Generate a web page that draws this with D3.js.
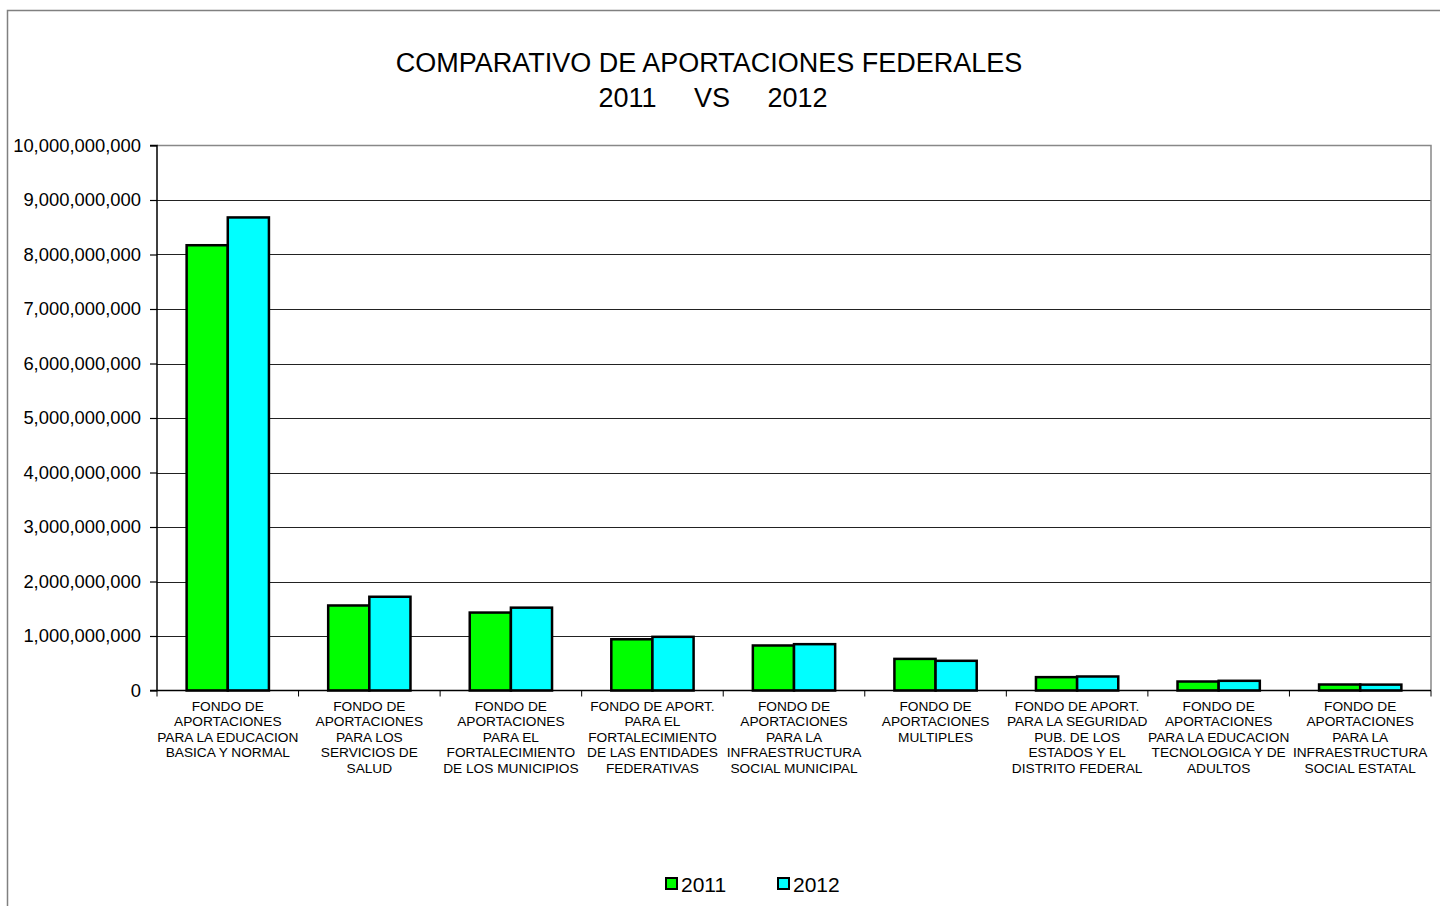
<!DOCTYPE html>
<html><head><meta charset="utf-8">
<script src="https://cdn.jsdelivr.net/npm/d3@7"></script>
<style>body{margin:0;background:#fff}svg{display:block;font-family:Arial,"Liberation Sans",sans-serif}</style>
</head><body><svg id="c" width="1440" height="906"></svg>
<script>
const categories = [
  ["FONDO DE","APORTACIONES","PARA LA EDUCACION","BASICA Y NORMAL"],
  ["FONDO DE","APORTACIONES","PARA LOS","SERVICIOS DE","SALUD"],
  ["FONDO DE","APORTACIONES","PARA EL","FORTALECIMIENTO","DE LOS MUNICIPIOS"],
  ["FONDO DE APORT.","PARA EL","FORTALECIMIENTO","DE LAS ENTIDADES","FEDERATIVAS"],
  ["FONDO DE","APORTACIONES","PARA LA","INFRAESTRUCTURA","SOCIAL MUNICIPAL"],
  ["FONDO DE","APORTACIONES","MULTIPLES"],
  ["FONDO DE APORT.","PARA LA SEGURIDAD","PUB. DE LOS","ESTADOS Y EL","DISTRITO FEDERAL"],
  ["FONDO DE","APORTACIONES","PARA LA EDUCACION","TECNOLOGICA Y DE","ADULTOS"],
  ["FONDO DE","APORTACIONES","PARA LA","INFRAESTRUCTURA","SOCIAL ESTATAL"]
];
const series = ["2011","2012"];
const values2011 = [8170000000,1560000000,1430000000,940000000,826000000,580000000,245000000,165000000,110000000];
const values2012 = [8680000000,1720000000,1520000000,985000000,850000000,545000000,257000000,178000000,108000000];
const yTicks = [0,1e9,2e9,3e9,4e9,5e9,6e9,7e9,8e9,9e9,1e10];
const colors = ["#00FF00","#00FFFF"];

const svg = d3.select("#c");
svg.append("path").attr("d","M7.5,906 V10.5 H1440").attr("fill","none").attr("stroke","#808080").attr("stroke-width",1.5);

const L=157, R=1431, T=145.5, B=690.5;
const x = d3.scaleBand().domain(d3.range(categories.length)).range([L,R]).paddingInner(0).paddingOuter(0);
const xs = d3.scaleBand().domain(series).range([0,x.bandwidth()]).paddingInner(0).paddingOuter(0.72);
const y = d3.scaleLinear().domain([0,1e10]).range([B,T]);

svg.append("text").attr("x",709).attr("y",72).attr("text-anchor","middle").attr("font-size",27).text("COMPARATIVO DE APORTACIONES FEDERALES");
svg.append("text").attr("x",713).attr("y",107).attr("text-anchor","middle").attr("font-size",27).attr("xml:space","preserve").text("2011     VS     2012");

svg.append("g").selectAll("line").data(yTicks.slice(1,-1)).join("line")
  .attr("x1",L).attr("x2",R).attr("y1",d=>Math.round(y(d))+0.5).attr("y2",d=>Math.round(y(d))+0.5)
  .attr("stroke","#222").attr("stroke-width",1.2);
svg.append("path").attr("d",`M${L},${T} H${R} V${B}`).attr("fill","none").attr("stroke","#888").attr("stroke-width",1.5);

const data = [values2011, values2012];
categories.forEach((c,i)=>{
  series.forEach((s,j)=>{
    const v = data[j][i];
    svg.append("rect").attr("x",x(i)+xs(s)).attr("width",xs.bandwidth())
      .attr("y",y(v)).attr("height",y(0)-y(v))
      .attr("fill",colors[j]).attr("stroke","#000").attr("stroke-width",2.5);
  });
});

const yAxis = d3.axisLeft(y).tickValues(yTicks).tickSize(7).tickPadding(9).tickFormat(d3.format(","));
const gy = svg.append("g").attr("transform",`translate(${L},0)`).call(yAxis);
gy.select(".domain").attr("stroke","#000").attr("stroke-width",1.5).attr("d",`M-7,${T}H0V${B}H-7`);
gy.selectAll(".tick line").attr("stroke","#000").attr("stroke-width",1.2);
gy.selectAll("text").attr("font-size",18.4).attr("fill","#000").attr("font-family","Arial, Liberation Sans, sans-serif");

svg.append("line").attr("x1",L).attr("x2",R).attr("y1",B).attr("y2",B).attr("stroke","#000").attr("stroke-width",1.5);
svg.append("g").selectAll("line").data(d3.range(categories.length+1)).join("line")
  .attr("x1",d=>L+d*x.bandwidth()).attr("x2",d=>L+d*x.bandwidth()).attr("y1",B).attr("y2",B+6)
  .attr("stroke","#000").attr("stroke-width",1);
const xl = svg.append("g");
categories.forEach((lines,i)=>{
  const t = xl.append("text").attr("text-anchor","middle").attr("font-size",13.7).attr("fill","#000");
  lines.forEach((ln,k)=>{
    t.append("tspan").attr("x",x(i)+x.bandwidth()/2).attr("y",711+k*15.4).text(ln);
  });
});

const leg = svg.append("g");
[[666,"2011"],[778,"2012"]].forEach(([lx,s],j)=>{
  leg.append("rect").attr("x",lx).attr("y",878).attr("width",11).attr("height",11).attr("fill",colors[j]).attr("stroke","#000").attr("stroke-width",2);
  leg.append("text").attr("x",lx+15).attr("y",892).attr("font-size",21).text(s);
});
</script></body></html>
